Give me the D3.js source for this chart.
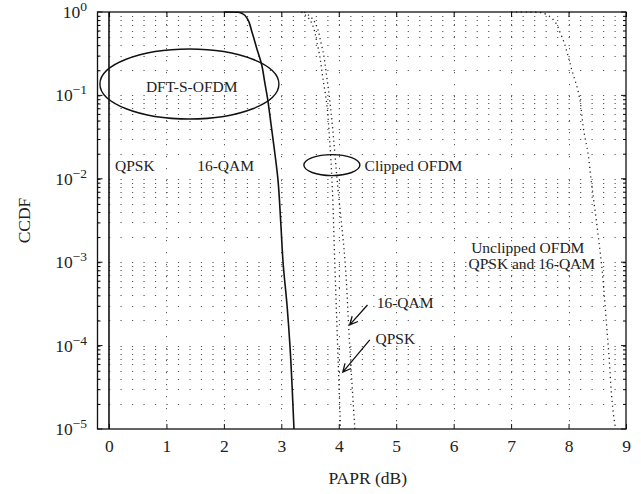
<!DOCTYPE html>
<html>
<head>
<meta charset="utf-8">
<script src="https://cdn.jsdelivr.net/npm/d3@7"></script>
<style>
  body { margin: 0; background: #fff; }
  text { font-family: "Liberation Serif", "Times New Roman", serif; fill: #222; }
</style>
</head>
<body>
<svg class="chart" width="641" height="494"></svg>
<script>
// ---- data ----
var xTicks = [0, 1, 2, 3, 4, 5, 6, 7, 8, 9];
var yExp = [0, -1, -2, -3, -4, -5];

// DFT-S-OFDM, QPSK: constant envelope, vertical at 0 dB
var dftQpsk = [[0, 1], [0, 1e-5]];
// DFT-S-OFDM, 16-QAM (solid)
var dft16 = [[2.0, 1], [2.25, 0.995], [2.33, 0.95], [2.4, 0.85], [2.49, 0.57], [2.57, 0.37],
  [2.66, 0.23], [2.71, 0.145], [2.77, 0.083], [2.8, 0.058], [2.87, 0.025], [2.94, 0.01],
  [2.99, 3e-3], [3.03, 1e-3], [3.1, 3e-4], [3.15, 1e-4], [3.19, 3e-5], [3.22, 1e-5]];
// clipped OFDM (dotted)
var clipQpsk = [[3.35, 1], [3.5, 0.8], [3.63, 0.4], [3.73, 0.15], [3.79, 0.08], [3.84, 0.03],
  [3.88, 0.01], [3.93, 1e-3], [3.98, 1e-4], [4.03, 1e-5]];
var clip16 = [[3.4, 1], [3.56, 0.8], [3.7, 0.4], [3.8, 0.15], [3.85, 0.08], [3.91, 0.03],
  [3.97, 0.01], [4.11, 1e-3], [4.19, 1e-4], [4.28, 1e-5]];
// unclipped OFDM, QPSK and 16-QAM (dotted, overlapping)
var unclip = [[7.0, 1], [7.5, 0.99], [7.7, 0.85], [7.87, 0.53], [7.99, 0.3], [8.05, 0.21],
  [8.17, 0.11], [8.27, 0.036], [8.34, 0.02], [8.39, 0.01], [8.48, 3.3e-3], [8.57, 1e-3],
  [8.69, 1e-4], [8.81, 1.1e-5], [8.82, 1e-5]];

// annotations [x, y, text, anchor]
var labels = [
  [1.44, 0.11, "DFT-S-OFDM", "middle"],
  [0.45, 0.0124, "QPSK", "middle"],
  [2.03, 0.0124, "16-QAM", "middle"],
  [4.45, 0.0124, "Clipped OFDM", "start"],
  [7.29, 1.29e-3, "Unclipped OFDM", "middle"],
  [7.36, 8.3e-4, "QPSK and 16-QAM", "middle"],
  [4.66, 2.8e-4, "16-QAM", "start"],
  [4.64, 1.05e-4, "QPSK", "start"]
];
// ellipses [cx, cy, rx(px), ry(px)]
var ellipses = [[1.4, 0.137, 89.5, 35], [3.88, 0.0146, 28, 10.5]];
// arrows [x1, y1, x2, y2]
var arrows = [[4.5, 3.07e-4, 4.19, 1.77e-4], [4.54, 1.17e-4, 4.07, 4.8e-5]];

// ---- layout ----
var pLeft = 97.5, pRight = 626, pTop = 12, pBottom = 429;
var svg = d3.select(".chart");

var x = d3.scaleLinear().domain([-0.2, 9]).range([pLeft, pRight]);
var y = d3.scaleLog().domain([1e-5, 1]).range([pBottom, pTop]);

// minor grid values
var yMinor = [];
for (var e = -5; e < 0; e++) {
  for (var m = 1; m < 10; m++) {
    var v = m * Math.pow(10, e);
    if (v > 1e-5) yMinor.push(v);
  }
}
var step = x(0.2) - x(0);

var grid = svg.append("g");
grid.selectAll(".hrow").data(yMinor).enter().append("line")
  .attr("x1", pLeft).attr("x2", pRight)
  .attr("y1", function(d) { return Math.round(y(d)) + 0.5; })
  .attr("y2", function(d) { return Math.round(y(d)) + 0.5; })
  .attr("stroke", "#555").attr("stroke-width", 1)
  .attr("stroke-dasharray", "1.2," + (step - 1.2));
grid.selectAll(".vcol").data(xTicks.slice(1, 9)).enter().append("line")
  .attr("x1", function(d) { return Math.round(x(d)) + 0.5; })
  .attr("x2", function(d) { return Math.round(x(d)) + 0.5; })
  .attr("y1", pTop).attr("y2", pBottom)
  .attr("stroke", "#555").attr("stroke-width", 1)
  .attr("stroke-dasharray", "1.2,10.8");

// ---- curves ----
var line = d3.line().x(function(d) { return x(d[0]); }).y(function(d) { return y(d[1]); })
  .curve(d3.curveMonotoneY);
var plot = svg.append("g");
plot.append("path").datum(dftQpsk).attr("d", line)
  .attr("fill", "none").attr("stroke", "#111").attr("stroke-width", 1.6);
plot.append("path").datum(dft16).attr("d", line)
  .attr("fill", "none").attr("stroke", "#111").attr("stroke-width", 1.6);
[clipQpsk, clip16].forEach(function(s) {
  plot.append("path").datum(s).attr("d", line)
    .attr("fill", "none").attr("stroke", "#222").attr("stroke-width", 1.3)
    .attr("stroke-dasharray", "1.2,3.3");
});
plot.append("path").datum(unclip).attr("d", line)
  .attr("fill", "none").attr("stroke", "#222").attr("stroke-width", 1.3)
  .attr("stroke-dasharray", "1.2,3.6");

// ---- axes box and ticks ----
svg.append("rect").attr("x", pLeft).attr("y", pTop)
  .attr("width", pRight - pLeft).attr("height", pBottom - pTop)
  .attr("fill", "none").attr("stroke", "#111").attr("stroke-width", 1.3);

var xb = d3.axisBottom(x).tickValues(xTicks).tickSizeInner(-5).tickSizeOuter(0).tickPadding(11);
var gx = svg.append("g").attr("transform", "translate(0," + pBottom + ")").call(xb);
gx.select(".domain").remove();
gx.attr("font-family", null);
gx.selectAll("text").attr("font-size", 17.5).attr("fill", "#222");
gx.selectAll("line").attr("stroke", "#111");

var xt = d3.axisTop(x).tickValues(xTicks).tickSizeInner(-5).tickSizeOuter(0).tickFormat("");
var gxt = svg.append("g").attr("transform", "translate(0," + pTop + ")").call(xt);
gxt.select(".domain").remove();

var yl = d3.axisLeft(y).tickValues(yMinor).tickSizeInner(-3).tickSizeOuter(0).tickFormat("");
var gyl = svg.append("g").attr("transform", "translate(" + pLeft + ",0)").call(yl);
gyl.select(".domain").remove();
var yr = d3.axisRight(y).tickValues(yMinor).tickSizeInner(-3).tickSizeOuter(0).tickFormat("");
var gyr = svg.append("g").attr("transform", "translate(" + pRight + ",0)").call(yr);
gyr.select(".domain").remove();
// major ticks longer
[[pLeft, 5], [pRight, -5]].forEach(function(p) {
  svg.append("g").selectAll("line").data(yExp).enter().append("line")
    .attr("x1", p[0]).attr("x2", p[0] + p[1])
    .attr("y1", function(d) { return y(Math.pow(10, d)); })
    .attr("y2", function(d) { return y(Math.pow(10, d)); })
    .attr("stroke", "#111");
});

// y labels 10^n
var ylab = svg.append("g").selectAll("text").data(yExp).enter().append("text")
  .attr("x", 87).attr("y", function(d) { return y(Math.pow(10, d)) + 6; })
  .attr("text-anchor", "end").attr("font-size", 17.5);
ylab.append("tspan").text("10");
ylab.append("tspan").attr("dy", -7).attr("font-size", 13.5)
  .text(function(d) { return d === 0 ? "0" : "\u2212" + (-d); });

// axis titles
svg.append("text").attr("x", (pLeft + pRight) / 2 + 6).attr("y", 484)
  .attr("text-anchor", "middle").attr("font-size", 17.5).text("PAPR (dB)");
svg.append("text").attr("transform", "translate(30," + ((pTop + pBottom) / 2) + ") rotate(-90)")
  .attr("text-anchor", "middle").attr("font-size", 17.5).text("CCDF");

// ---- annotations ----
var ann = svg.append("g");
ann.selectAll("ellipse").data(ellipses).enter().append("ellipse")
  .attr("cx", function(d) { return x(d[0]); }).attr("cy", function(d) { return y(d[1]); })
  .attr("rx", function(d) { return d[2]; }).attr("ry", function(d) { return d[3]; })
  .attr("fill", "none").attr("stroke", "#111").attr("stroke-width", 1.4);
ann.selectAll("text").data(labels).enter().append("text")
  .attr("x", function(d) { return x(d[0]); }).attr("y", function(d) { return y(d[1]); })
  .attr("text-anchor", function(d) { return d[3]; })
  .attr("font-size", 15.5).text(function(d) { return d[2]; });
arrows.forEach(function(a) {
  var x1 = x(a[0]), y1 = y(a[1]), x2 = x(a[2]), y2 = y(a[3]);
  var ang = Math.atan2(y2 - y1, x2 - x1), h = 9, w = 0.45;
  ann.append("path")
    .attr("d", "M" + x1 + "," + y1 + "L" + x2 + "," + y2 +
      "M" + (x2 - h * Math.cos(ang - w)) + "," + (y2 - h * Math.sin(ang - w)) +
      "L" + x2 + "," + y2 +
      "L" + (x2 - h * Math.cos(ang + w)) + "," + (y2 - h * Math.sin(ang + w)))
    .attr("fill", "none").attr("stroke", "#111").attr("stroke-width", 1.3);
});
</script>
</body>
</html>
